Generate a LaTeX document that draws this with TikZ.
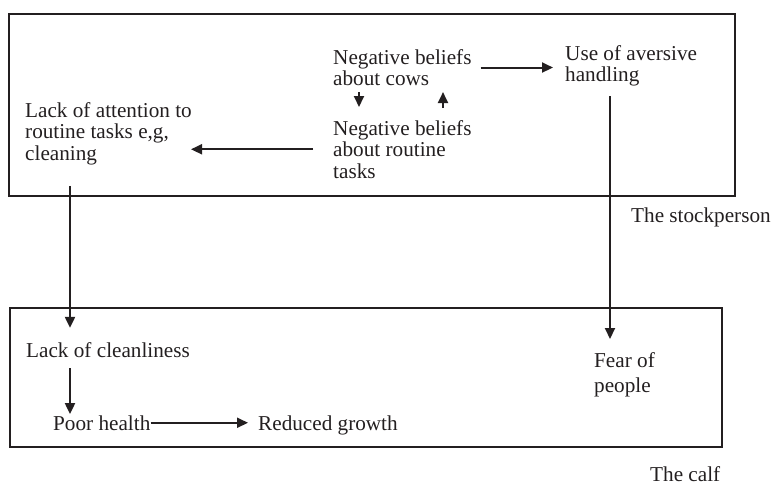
\documentclass[tikz,border=0pt]{standalone}
\usepackage{fontspec}
\setmainfont{Liberation Serif}
\usepackage{xcolor}
\usepackage{tikz}
\usetikzlibrary{arrows.meta,calc}

\definecolor{ink}{RGB}{35,31,32}

\begin{document}
\begin{tikzpicture}[
x=1pt, y=-1pt,
lbl/.style={anchor=north west, align=left, inner sep=0pt, text=ink, font=\fontsize{21.2}{21.5}\selectfont},
one/.style={lbl, anchor=base west},
zone/.style={draw=ink, line width=2.2pt},
arr/.style={-{Triangle[length=11pt,width=10pt]}, draw=ink, line width=2pt}
]
\useasboundingbox (0,0) rectangle (776,488);

% the two frames
\draw[zone] (9,14) rectangle (735,196);
\draw[zone] (10,308) rectangle (722,447);

% stockperson
\node[lbl] (cows) at (333,49) {Negative beliefs\\about cows};
\node[lbl] (routine) at (333,120) {Negative beliefs\\about routine\\tasks};
\node[lbl] (aversive) at (565,45) {Use of aversive\\handling};
\node[lbl] (attention) at (25,102) {Lack of attention to\\routine tasks e,g,\\cleaning};
\node[one] (person) at (631,222) {The stockperson};

% calf
\node[one] (clean) at (26,357) {Lack of cleanliness};
\node[lbl] (fear) at (594,352) {Fear of\\[3.5pt]people};
\node[one] (health) at (53,430) {Poor health};
\node[one] (growth) at (258,430) {Reduced growth};
\node[one] (calf) at (650,481) {The calf};

\draw[arr] ([xshift=9pt]cows.east) -- ([xshift=-12pt]cows.east -| aversive.west);
\draw[arr] ([xshift=26pt,yshift=-6pt]cows.south west) -- ([xshift=26pt,yshift=13pt]routine.north west);
\draw[arr] ([xshift=110pt,yshift=12pt]routine.north west) -- ([xshift=110pt,yshift=-6pt]cows.south west);
\draw[arr] ([xshift=-20pt]routine.west) -- ([xshift=-1pt]routine.west -| attention.east);
\draw[arr] ([xshift=45pt,yshift=-21pt]attention.south west) coordinate (down1) -- ([yshift=14pt]down1 |- clean.north);
\draw[arr] ([xshift=45pt,yshift=-10pt]aversive.south west) coordinate (down2) -- ([yshift=13pt]down2 |- fear.north);
\draw[arr] ([xshift=44pt,yshift=-11pt]clean.south west) coordinate (down3) -- ([yshift=1pt]down3 |- health.north);
\draw[arr] (health.east) -- ([xshift=-10pt]health.east -| growth.west);
\end{tikzpicture}
\end{document}
